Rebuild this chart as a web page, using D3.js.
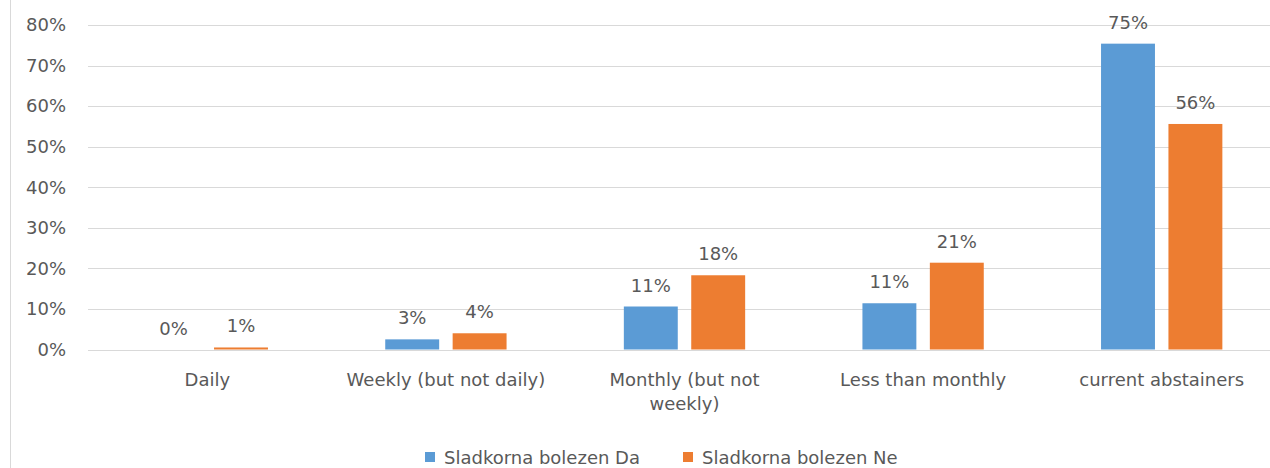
<!DOCTYPE html>
<html>
<head>
<meta charset="utf-8">
<script src="https://cdn.jsdelivr.net/npm/d3@7"></script>
<style>
  body { margin: 0; background: #fff; }
  text { font-family: "DejaVu Sans", "Open Sans", sans-serif; fill: #595959; }
</style>
</head>
<body>
<script>
// data
var categories = ["Daily", "Weekly (but not daily)", "Monthly (but not weekly)", "Less than monthly", "current abstainers"];
var seriesNames = ["Sladkorna bolezen Da", "Sladkorna bolezen Ne"];
var valuesDa = [0, 2.5, 10.6, 11.4, 75.4];
var valuesNe = [0.5, 4.0, 18.3, 21.4, 55.6];
var yTicks = [0, 10, 20, 30, 40, 50, 60, 70, 80];
var colors = ["#5B9BD5", "#ED7D31"];

// category labels that wrap in the original
var wrapped = { "Monthly (but not weekly)": ["Monthly (but not", "weekly)"] };

var w = 1270, h = 468;
var fs = 18;
var svg = d3.select("body").append("svg").attr("width", w).attr("height", h);

// left border of the chart area
svg.append("line")
  .attr("x1", 10.5).attr("x2", 10.5).attr("y1", 0).attr("y2", h)
  .attr("stroke", "#d9d9d9");

var x = d3.scaleBand().domain(categories).range([88, 1281]);
var inner = d3.scaleBand().domain([0, 1]).range([0, x.bandwidth()]).paddingInner(0.2).paddingOuter(0.87);
var y = d3.scaleLinear().domain([0, 80]).range([349.5, 25]);

// gridlines
svg.selectAll("line.grid").data(yTicks).enter().append("line")
  .attr("class", "grid")
  .attr("x1", 88).attr("x2", 1281)
  .attr("y1", function(d) { return Math.round(y(d)) + 0.5; })
  .attr("y2", function(d) { return Math.round(y(d)) + 0.5; })
  .attr("stroke", "#d9d9d9");

// y axis labels
var yAxis = d3.axisLeft(y).tickValues(yTicks).tickSize(0).tickPadding(22)
  .tickFormat(function(d) { return d + "%"; });
var ya = svg.append("g").attr("transform", "translate(88,0)").call(yAxis);
ya.select(".domain").remove();
ya.selectAll("text").attr("font-size", fs).attr("font-family", null).attr("fill", "#595959");

var series = [valuesDa, valuesNe];
series.forEach(function(vals, s) {
  var g = svg.append("g");
  g.selectAll("rect").data(vals).enter().append("rect")
    .attr("x", function(d, i) { return x(categories[i]) + inner(s); })
    .attr("width", inner.bandwidth())
    .attr("y", function(d) { return y(d); })
    .attr("height", function(d) { return y(0) - y(d); })
    .attr("fill", colors[s]);
  g.selectAll("text").data(vals).enter().append("text")
    .attr("x", function(d, i) { return x(categories[i]) + inner(s) + inner.bandwidth() / 2; })
    .attr("y", function(d) { return y(d) - 15; })
    .attr("text-anchor", "middle")
    .attr("font-size", fs)
    .text(function(d) { return Math.round(d) + "%"; });
});

// category labels
var xl = svg.selectAll("text.cat").data(categories).enter().append("text")
  .attr("class", "cat")
  .attr("text-anchor", "middle")
  .attr("font-size", fs)
  .attr("x", function(d) { return x(d) + x.bandwidth() / 2; })
  .attr("y", 386);
xl.each(function(d) {
  var lines = wrapped[d] || [d];
  var t = d3.select(this);
  lines.forEach(function(l, i) {
    t.append("tspan")
      .attr("x", x(d) + x.bandwidth() / 2)
      .attr("dy", i === 0 ? 0 : 24)
      .text(l);
  });
});

// legend
var legendX = [425, 683];
var lg = svg.selectAll("g.legend").data(seriesNames).enter().append("g")
  .attr("class", "legend")
  .attr("transform", function(d, i) { return "translate(" + legendX[i] + ",452)"; });
lg.append("rect").attr("width", 10).attr("height", 10)
  .attr("fill", function(d, i) { return colors[i]; });
lg.append("text").attr("x", 19).attr("y", 12).attr("font-size", fs)
  .text(function(d) { return d; });
</script>
</body>
</html>
